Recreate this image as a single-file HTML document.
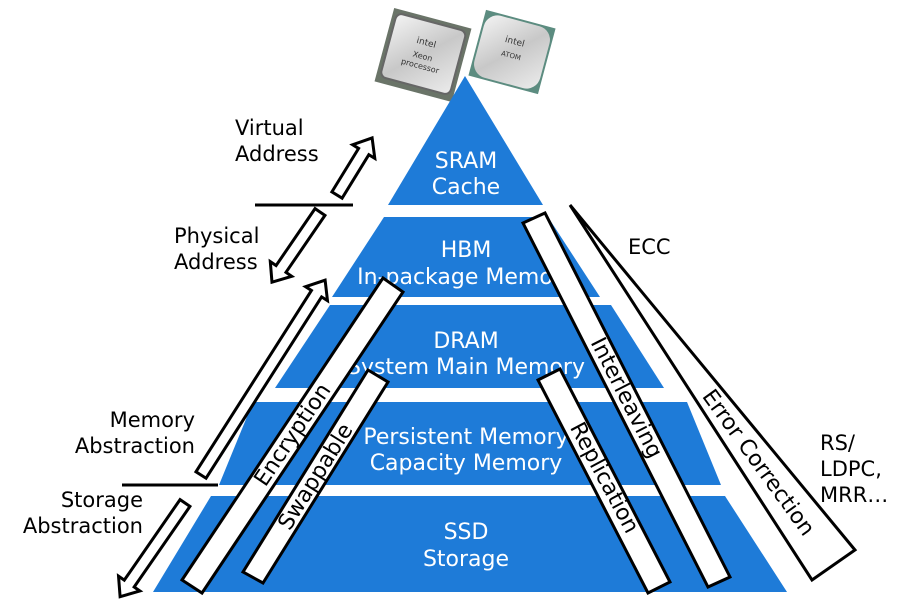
<!DOCTYPE html>
<html><head><meta charset="utf-8"><style>
html,body{margin:0;padding:0;background:#fff;}
svg{display:block;}
text{font-family:"DejaVu Sans","Liberation Sans",sans-serif;}
</style></head><body>
<svg width="912" height="600" viewBox="0 0 912 600" xmlns="http://www.w3.org/2000/svg">
<defs>
<linearGradient id="g1" x1="0" y1="0" x2="1" y2="1"><stop offset="0" stop-color="#f4f4f4"/><stop offset="0.5" stop-color="#c8c8c8"/><stop offset="1" stop-color="#ececec"/></linearGradient>
</defs>
<!-- chips -->
<g transform="translate(423,55) rotate(15)">
<rect x="-40" y="-38" width="80" height="76" fill="#6a7468"/>
<rect x="-36" y="-34" width="72" height="66" rx="6" fill="url(#g1)" stroke="#666" stroke-width="2"/>
<text x="0" y="-10" font-size="9" text-anchor="middle" fill="#333">intel</text>
<text x="0" y="4" font-size="8" text-anchor="middle" fill="#333">Xeon</text>
<text x="0" y="14" font-size="8" text-anchor="middle" fill="#333">processor</text>
</g>
<g transform="translate(512,52) rotate(15)">
<rect x="-36" y="-34" width="72" height="68" fill="#5c8c80"/>
<rect x="-34" y="-32" width="68" height="64" rx="14" fill="url(#g1)"/>
<text x="0" y="-8" font-size="9" text-anchor="middle" fill="#333">intel</text>
<text x="0" y="6" font-size="7" text-anchor="middle" fill="#333">ATOM</text>
</g>
<!-- pyramid -->
<g fill="#1e7bd8">
<polygon points="465,76 543,205 388,205"/>
<polygon points="384,217 548,217 600,297 332,297"/>
<polygon points="330,305 611,305 664,388 275,388"/>
<polygon points="253,402 687,402 721,485 219,485"/>
<polygon points="211,496 725,496 787,592 153,592"/>
</g>
<g fill="#fff" font-size="22" text-anchor="middle">
<text x="466" y="168">SRAM</text><text x="466" y="194">Cache</text>
<text x="466" y="257">HBM</text><text x="466" y="284">In-package Memory</text>
<text x="466" y="348">DRAM</text><text x="466" y="374">System Main Memory</text>
<text x="466" y="444">Persistent Memory</text><text x="466" y="470">Capacity Memory</text>
<text x="466" y="539">SSD</text><text x="466" y="566">Storage</text>
</g>
<!-- bars -->
<g fill="#fff" stroke="#000" stroke-width="3" stroke-linejoin="miter">
<polygon points="383,278 403,292 202,593 182,580"/>
<polygon points="368,370 388,382 263,583 243,572"/>
<polygon points="523,223 545,213 730,577 708,587"/>
<polygon points="538,380 560,369 670,582 648,593"/>
<polygon points="570,205 855,550 812,580"/>
</g>
<g font-size="22" text-anchor="middle" fill="#000">
<text transform="translate(293,435) rotate(-56)" dominant-baseline="central">Encryption</text>
<text transform="translate(316,477) rotate(-58)" dominant-baseline="central">Swappable</text>
<text transform="translate(626,398) rotate(63)" dominant-baseline="central">Interleaving</text>
<text transform="translate(604,478) rotate(62)" dominant-baseline="central">Replication</text>
<text transform="translate(758,463) rotate(54)" dominant-baseline="central">Error Correction</text>
</g>
<!-- arrows -->
<g fill="#fff" stroke="#000" stroke-width="3" stroke-linejoin="miter">
<polygon transform="translate(337,195) rotate(-58.4)" points="0,-6 51,-6 51,-13 67,0 51,13 51,6 0,6"/>
<polygon transform="translate(320,212) rotate(124.4)" points="0,-6 69,-6 69,-13 85,0 69,13 69,6 0,6"/>
<polygon transform="translate(201,475) rotate(-57.5)" points="0,-6 215,-6 215,-13 231,0 215,13 215,6 0,6"/>
<polygon transform="translate(185,503) rotate(124.7)" points="0,-6 98,-6 98,-13 114,0 98,13 98,6 0,6"/>
</g>
<line x1="255" y1="205" x2="353" y2="205" stroke="#000" stroke-width="3"/>
<line x1="122" y1="485" x2="218" y2="485" stroke="#000" stroke-width="3"/>
<g font-size="21" fill="#000">
<text x="235" y="135">Virtual</text><text x="235" y="161">Address</text>
<text x="174" y="243">Physical</text><text x="174" y="269">Address</text>
<text x="195" y="427" text-anchor="end">Memory</text><text x="195" y="453" text-anchor="end">Abstraction</text>
<text x="143" y="507" text-anchor="end">Storage</text><text x="143" y="533" text-anchor="end">Abstraction</text>
<text x="628" y="254">ECC</text>
<text x="820" y="450">RS/</text><text x="820" y="476">LDPC,</text><text x="820" y="502">MRR…</text>
</g>
</svg>
</body></html>
